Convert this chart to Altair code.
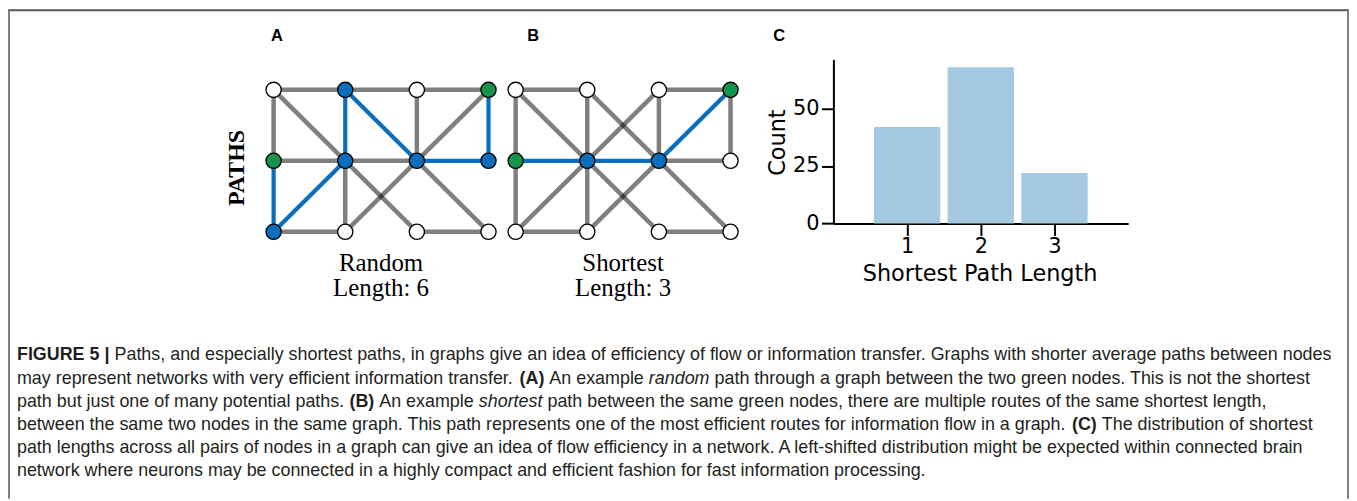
import altair as alt
import pandas as pd

# ---------------- data ----------------
GRID_COLS = [0, 1, 2, 3]
GRID_ROWS = [0, 1, 2]

# edges as (col1, row1, col2, row2); row 0 is the top row
A_EDGES = [(0, 0, 1, 0), (1, 0, 2, 0), (2, 0, 3, 0), (0, 0, 0, 1), (0, 0, 1, 1),
           (1, 1, 2, 2), (1, 0, 1, 1), (1, 0, 2, 1), (2, 0, 2, 1), (3, 0, 2, 1),
           (2, 1, 1, 2), (3, 0, 3, 1), (0, 1, 1, 1), (1, 1, 2, 1), (2, 1, 3, 1),
           (0, 1, 0, 2), (0, 2, 1, 1), (1, 1, 1, 2), (2, 1, 3, 2), (0, 2, 1, 2),
           (2, 2, 3, 2)]
A_PATH = [(0, 1), (0, 2), (1, 1), (1, 0), (2, 1), (3, 1), (3, 0)]

B_EDGES = [(0, 0, 1, 0), (2, 0, 3, 0), (0, 0, 0, 1), (0, 0, 1, 1), (1, 0, 1, 1),
           (1, 0, 2, 1), (2, 0, 1, 1), (2, 0, 2, 1), (3, 0, 2, 1), (3, 0, 3, 1),
           (0, 1, 1, 1), (1, 1, 2, 1), (2, 1, 3, 1), (0, 1, 0, 2), (0, 2, 1, 1),
           (1, 1, 1, 2), (1, 1, 2, 2), (2, 1, 1, 2), (2, 1, 3, 2), (0, 2, 1, 2),
           (2, 2, 3, 2)]
B_PATH = [(0, 1), (1, 1), (2, 1), (3, 0)]

PATH_LENGTHS = [1, 2, 3]
PATH_COUNTS = [42, 68, 22]
X_TICKS = [1, 2, 3]
Y_TICKS = [0, 25, 50]

PANEL_LABELS = ["A", "B", "C"]
GRAPH_TITLES = [["Random", "Length: 6"], ["Shortest", "Length: 3"]]
ROW_TITLE = "PATHS"
X_TITLE = "Shortest Path Length"
Y_TITLE = "Count"

CAPTION_LINES = [
    [("FIGURE 5 |", "b"),
     (" Paths, and especially shortest paths, in graphs give an idea of efficiency of flow or information transfer. Graphs with shorter average paths between nodes", "r")],
    [("may represent networks with very efficient information transfer. ", "r"), ("(A)", "b"),
     (" An example ", "r"), ("random", "i"),
     (" path through a graph between the two green nodes. This is not the shortest", "r")],
    [("path but just one of many potential paths. ", "r"), ("(B)", "b"), (" An example ", "r"),
     ("shortest", "i"),
     (" path between the same green nodes, there are multiple routes of the same shortest length,", "r")],
    [("between the same two nodes in the same graph. This path represents one of the most efficient routes for information flow in a graph. ", "r"),
     ("(C)", "b"), (" The distribution of shortest", "r")],
    [("path lengths across all pairs of nodes in a graph can give an idea of flow efficiency in a network. A left-shifted distribution might be expected within connected brain", "r")],
    [("network where neurons may be connected in a highly compact and efficient fashion for fast information processing.", "r")],
]

# ---------------- style / layout ----------------
W, H = 1348, 492
M = 8  # page margin, chart coords = page coords - M

BLUE = "#0a6ebd"
GREEN = "#16924b"
BAR = "#a5c9e1"
SERIF = "Liberation Serif"
SANS = "DejaVu Sans"
CAP_FONT = "Liberation Sans"
CAP_SIZE = 18.0

GRAPH_Y = [89 - M, 231.7 - M]
GRAPH_A_X = [275 - M, 491 - M]
GRAPH_B_X = [518.3 - M, 734.3 - M]

REG = {' ': 278, '(': 333, ')': 333, ',': 278, '-': 333, '.': 278, '|': 260,
       'A': 667, 'B': 667, 'C': 722, 'D': 722, 'E': 667, 'F': 611, 'G': 778, 'H': 722,
       'I': 278, 'L': 556, 'P': 667, 'R': 722, 'S': 667, 'T': 611, 'U': 722,
       'a': 556, 'b': 556, 'c': 500, 'd': 556, 'e': 556, 'f': 278, 'g': 556, 'h': 556,
       'i': 222, 'j': 222, 'k': 500, 'l': 222, 'm': 833, 'n': 556, 'o': 556, 'p': 556,
       'q': 556, 'r': 333, 's': 500, 't': 278, 'u': 556, 'v': 500, 'w': 722, 'x': 500,
       'y': 500, 'z': 500}
BOLD = {' ': 278, '(': 333, ')': 333, '|': 280, '5': 556, 'A': 722, 'B': 722, 'C': 722,
        'E': 667, 'F': 611, 'G': 778, 'I': 278, 'R': 722, 'U': 722}


def tw(s, style):
    table = BOLD if style == "b" else REG
    return sum(table.get(ch, 556) for ch in s) * CAP_SIZE / 1000.0


layers = []

# frame
layers.append(alt.Chart(pd.DataFrame({"k": [0]})).mark_rule(color="#555555", strokeWidth=2).encode(
    x=alt.value(0), x2=alt.value(W), y=alt.value(1)))
for xv in (1, W - 1):
    layers.append(alt.Chart(pd.DataFrame({"k": [0]})).mark_rule(color="#808080", strokeWidth=2).encode(
        x=alt.value(xv), y=alt.value(0), y2=alt.value(H)))


def graph_layers(edges, path, xr):
    xs = alt.Scale(domain=[0, 3], range=xr, nice=False, zero=False)
    ys = alt.Scale(domain=[0, 2], range=GRAPH_Y, nice=False, zero=False)
    steps = set(zip(path[:-1], path[1:]))
    rows = []
    for c1, r1, c2, r2 in edges:
        on = ((c1, r1), (c2, r2)) in steps or ((c2, r2), (c1, r1)) in steps
        rows.append(dict(c1=c1, r1=r1, c2=c2, r2=r2, on=on))
    edf = pd.DataFrame(rows)
    enc = dict(x=alt.X("c1:Q", scale=xs, axis=None), y=alt.Y("r1:Q", scale=ys, axis=None),
               x2="c2:Q", y2="r2:Q")
    gray = alt.Chart(edf[~edf.on]).mark_rule(color="#000000", opacity=0.5, strokeWidth=4.5).encode(**enc)
    blue = alt.Chart(edf[edf.on]).mark_rule(color=BLUE, strokeWidth=4.2).encode(**enc)
    nrows = []
    for r in GRID_ROWS:
        for c in GRID_COLS:
            if (c, r) in (path[0], path[-1]):
                k = "end"
            elif (c, r) in path:
                k = "path"
            else:
                k = "other"
            nrows.append(dict(c=c, r=r, kind=k))
    ndf = pd.DataFrame(nrows)
    nodes = alt.Chart(ndf).mark_circle(size=235, opacity=1, stroke="black", strokeWidth=1.3).encode(
        x=alt.X("c:Q", scale=xs, axis=None), y=alt.Y("r:Q", scale=ys, axis=None),
        color=alt.Color("kind:N", scale=alt.Scale(domain=["other", "path", "end"],
                                                   range=["#ffffff", BLUE, GREEN]), legend=None))
    return [gray, blue, nodes]


layers += graph_layers(A_EDGES, A_PATH, GRAPH_A_X)
layers += graph_layers(B_EDGES, B_PATH, GRAPH_B_X)

# bar chart
BX = [837.7 - M, 1134 - M]
BY0, BY1 = 223.3 - M, 58.3 - M
bdf = pd.DataFrame({"length": PATH_LENGTHS, "count": PATH_COUNTS})
xaxis = alt.Axis(values=X_TICKS, format="d", orient="bottom", offset=BY0 - H, grid=False,
                 domainColor="black", domainWidth=2, tickColor="black", tickWidth=2, tickSize=12,
                 labelFont=SANS, labelFontSize=21, labelColor="black", labelPadding=0, labelFlush=False,
                 title=X_TITLE, titleFont=SANS, titleFontSize=22.5, titleFontWeight="normal",
                 titleColor="black", titleX=(984.7 - M) - 0, titleY=(280.7 - M) - BY0,
                 titleBaseline="alphabetic", titleAlign="center")
yaxis = alt.Axis(values=Y_TICKS, format="d", orient="left", offset=-BX[0], grid=False,
                 domainColor="black", domainWidth=2, tickColor="black", tickWidth=2, tickSize=12,
                 labelFont=SANS, labelFontSize=21, labelColor="black", labelPadding=2.5, labelFlush=False,
                 title=Y_TITLE, titleFont=SANS, titleFontSize=22.5, titleFontWeight="normal",
                 titleColor="black", titleAngle=270, titleX=(788.3 - M) - BX[0], titleY=141.5 - M,
                 titleBaseline="alphabetic", titleAlign="center")
bars = alt.Chart(bdf).transform_calculate(
    lo="datum.length - 0.45", hi="datum.length + 0.45", base="0"
).mark_bar(color=BAR).encode(
    x=alt.X("lo:Q", scale=alt.Scale(domain=[0, 4], range=BX, nice=False, zero=False), axis=xaxis),
    x2="hi:Q",
    y=alt.Y("count:Q", scale=alt.Scale(domain=[0, 71.4], range=[BY0, BY1], nice=False, zero=False), axis=yaxis),
    y2="base:Q",
)
layers.append(bars)

# panel labels
pl = pd.DataFrame({"t": PANEL_LABELS, "px": [278.3 - M, 536 - M, 783.3 - M], "py": [40 - M] * 3})
layers.append(alt.Chart(pl).mark_text(font="Liberation Sans", fontWeight="bold", fontSize=16.5,
                                       baseline="alphabetic", align="center", color="black").encode(
    x=alt.X("px:Q", scale=None), y=alt.Y("py:Q", scale=None), text="t:N"))

# row title
layers.append(alt.Chart(pd.DataFrame({"t": [ROW_TITLE]})).mark_text(
    font=SERIF, fontWeight="bold", fontSize=24, angle=270, baseline="alphabetic", align="center",
    color="black").encode(x=alt.value(245 - M), y=alt.value(167.5 - M), text="t:N"))

# graph titles
gt_rows = []
for i, (l1, l2) in enumerate(GRAPH_TITLES):
    cx = (GRAPH_A_X if i == 0 else GRAPH_B_X)
    mid = (cx[0] + cx[1]) / 2
    gt_rows.append(dict(t=l1, px=mid, py=271 - M))
    gt_rows.append(dict(t=l2, px=mid, py=296.5 - M))
layers.append(alt.Chart(pd.DataFrame(gt_rows)).mark_text(
    font=SERIF, fontSize=25, baseline="alphabetic", align="center", color="black").encode(
    x=alt.X("px:Q", scale=None), y=alt.Y("py:Q", scale=None), text="t:N"))

# caption
seg_rows = []
for li, segs in enumerate(CAPTION_LINES):
    cur = 17 - M
    yb = 361 - M + 23.3 * li
    for s, st in segs:
        lead = len(s) - len(s.lstrip(" "))
        cur += tw(" " * lead, "r")
        body = s.strip(" ")
        seg_rows.append(dict(t=body, px=cur, py=yb, st=st))
        cur += tw(body, st)
        trail = len(s) - len(s.rstrip(" "))
        cur += tw(" " * trail, "r")
sdf = pd.DataFrame(seg_rows)
for st, fw, fs in (("r", "normal", "normal"), ("b", "bold", "normal"), ("i", "normal", "italic")):
    sub = sdf[sdf.st == st]
    layers.append(alt.Chart(sub).mark_text(
        font=CAP_FONT, fontSize=CAP_SIZE, fontWeight=fw, fontStyle=fs, baseline="alphabetic",
        align="left", color="#231f20").encode(
        x=alt.X("px:Q", scale=None), y=alt.Y("py:Q", scale=None), text="t:N"))

chart = alt.layer(*layers).resolve_scale(
    x="independent", y="independent", color="independent"
).properties(
    width=W, height=H, padding=0, autosize=alt.AutoSizeParams(type="none")
).configure_view(strokeWidth=0)

chart.save("out.html", embed_options={"renderer": "svg", "actions": False})
